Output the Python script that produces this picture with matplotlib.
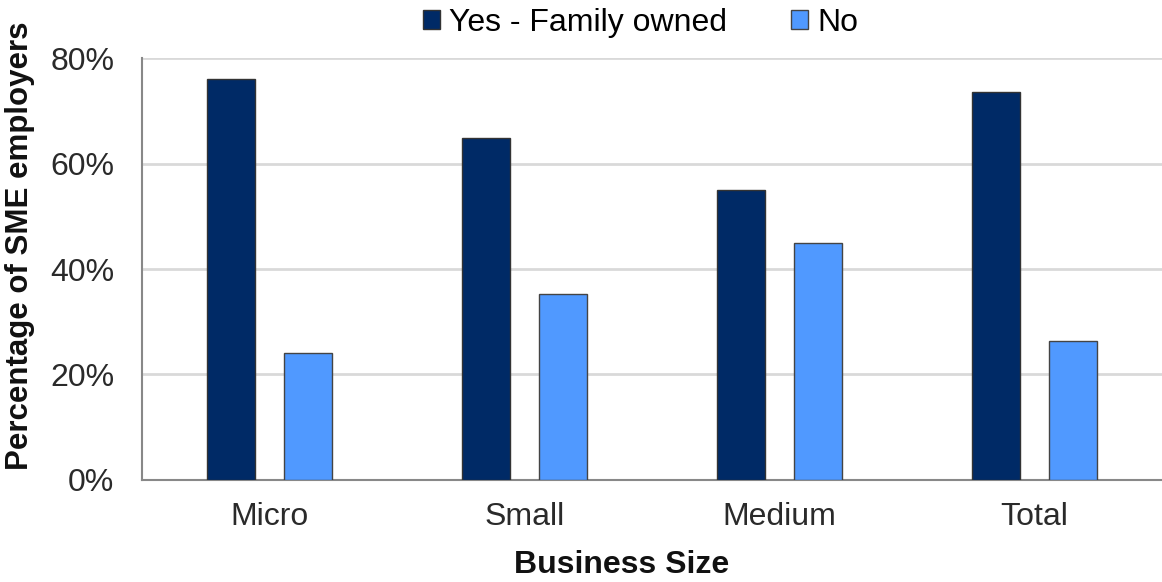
import numpy as np
import matplotlib
matplotlib.use("Agg")
import matplotlib.pyplot as plt
from matplotlib.ticker import PercentFormatter

categories = ["Micro", "Small", "Medium", "Total"]
family_owned = [76.0, 64.8, 55.0, 73.6]
not_family = [24.0, 35.2, 45.0, 26.4]
series_names = ["Yes - Family owned", "No"]

plt.rcParams["font.family"] = ["Liberation Sans", "DejaVu Sans"]

fig = plt.figure(figsize=(11.62, 5.82), dpi=100)
ax = fig.add_axes([0.1222, 0.1753, 0.8778, 0.725])

x = np.arange(len(categories))
width = 0.19
offset = 0.151

ax.bar(x - offset, family_owned, width, color="#002a66", edgecolor="#333333",
       linewidth=1, label=series_names[0], zorder=3)
ax.bar(x + offset, not_family, width, color="#5099ff", edgecolor="#444444",
       linewidth=1, label=series_names[1], zorder=3)

ax.set_xlim(-0.5, len(categories) - 0.5)
ax.set_ylim(0, 80)
ax.set_yticks([0, 20, 40, 60, 80])
ax.yaxis.set_major_formatter(PercentFormatter(decimals=0))
ax.set_xticks(x)
ax.set_xticklabels(categories)
ax.tick_params(axis="both", length=0, labelsize=23, colors="#2a2a2a")
ax.tick_params(axis="y", pad=20)
ax.tick_params(axis="x", pad=16)

ax.grid(axis="y", color="#d9d9d9", linewidth=2, zorder=0)
for side in ["top", "right"]:
    ax.spines[side].set_visible(False)
for side in ["left", "bottom"]:
    ax.spines[side].set_color("#888888")
    ax.spines[side].set_linewidth(1.5)

ax.set_xlabel("Business Size", fontsize=23, fontweight="bold", color="#111111")
ax.set_ylabel("Percentage of SME employers", fontsize=22.5, fontweight="bold", color="#111111")
ax.xaxis.set_label_coords(0.47, -0.166)
ax.yaxis.set_label_coords(-0.105, 0.555)

ax.legend(loc="center", bbox_to_anchor=(0.489, 1.083), ncol=2, frameon=False,
          fontsize=23, handlelength=0.53, handleheight=0.53, handletextpad=0.28,
          columnspacing=2.0, borderaxespad=0, borderpad=0)

fig.savefig("out.png", dpi=100)
